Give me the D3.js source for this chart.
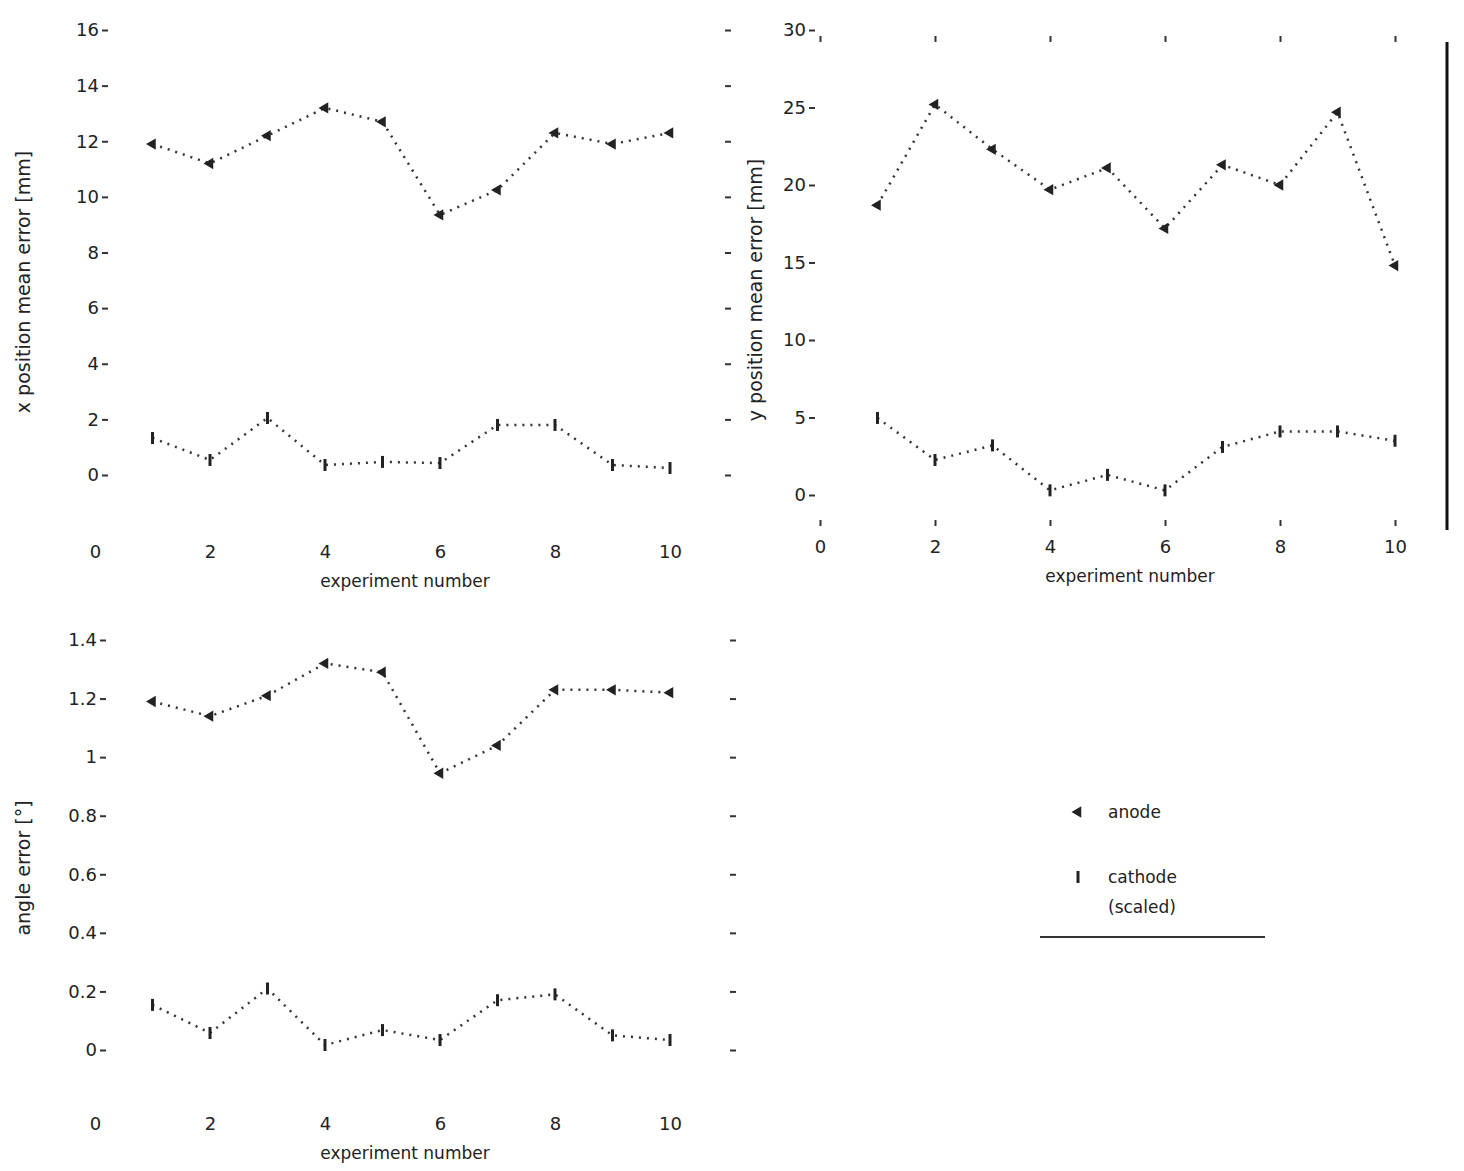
<!DOCTYPE html>
<html>
<head>
<meta charset="utf-8">
<script src="https://cdn.jsdelivr.net/npm/d3@7"></script>
<style>
  body { margin: 0; background: #fff; }
  text { font-family: "DejaVu Sans", sans-serif; fill: #222; }
</style>
</head>
<body>
<svg id="chart" width="1464" height="1171"></svg>
<script>
// values
var experiments = [1, 2, 3, 4, 5, 6, 7, 8, 9, 10];
var xTicks = [0, 2, 4, 6, 8, 10];

var xAnode   = [11.9, 11.2, 12.2, 13.2, 12.7, 9.35, 10.25, 12.3, 11.9, 12.3];
var xCathode = [1.33, 0.54, 2.05, 0.36, 0.47, 0.43, 1.8, 1.8, 0.36, 0.25];
var xErrTicks = [0, 2, 4, 6, 8, 10, 12, 14, 16];

var yAnode   = [18.7, 25.2, 22.3, 19.7, 21.1, 17.2, 21.3, 20.0, 24.7, 14.8];
var yCathode = [4.97, 2.26, 3.2, 0.3, 1.3, 0.3, 3.1, 4.1, 4.1, 3.5];
var yErrTicks = [0, 5, 10, 15, 20, 25, 30];

var angAnode   = [1.19, 1.14, 1.21, 1.32, 1.29, 0.945, 1.04, 1.23, 1.23, 1.22];
var angCathode = [0.154, 0.058, 0.21, 0.017, 0.068, 0.034, 0.17, 0.19, 0.05, 0.034];
var angTicks = [0, 0.2, 0.4, 0.6, 0.8, 1, 1.2, 1.4];

var seriesNames = ["anode", "cathode"];
var legendLines = [["anode"], ["cathode", "(scaled)"]];

var svg = d3.select('#chart');
var fmt = d3.format('.1~f');

var markers = {
  anode: function(g){
    g.append('path').attr('d', d3.symbol(d3.symbolTriangle, 55)())
      .attr('transform', 'rotate(-90)').style('fill', '#222');
  },
  cathode: function(g){
    g.append('line').attr('x1', 0).attr('x2', 0).attr('y1', -6).attr('y2', 6)
      .style('stroke', '#222').style('stroke-width', 3);
  }
};

function drawPanel(cfg){
  var g = svg.append('g'),
      x = d3.scaleLinear().domain([0, 10]).range(cfg.xr),
      y = d3.scaleLinear().domain(cfg.yd).range(cfg.yr);

  g.append('g').attr('transform', 'translate(' + cfg.left + ',0)')
    .call(d3.axisLeft(y).tickValues(cfg.yTicks).tickFormat(fmt).tickSize(6).tickPadding(3));
  if (cfg.right) {
    g.append('g').attr('transform', 'translate(' + cfg.right + ',0)')
      .call(d3.axisRight(y).tickValues(cfg.yTicks).tickFormat('').tickSize(6));
  }
  g.append('g').attr('transform', 'translate(0,' + cfg.bottom + ')')
    .call(d3.axisBottom(x).tickValues(xTicks).tickFormat(fmt).tickSize(cfg.bottomTicks ? 6 : 0)
      .tickPadding(cfg.bottomTicks ? 14 : 20));
  if (cfg.top) {
    g.append('g').attr('transform', 'translate(0,' + cfg.top + ')')
      .call(d3.axisBottom(x).tickValues(xTicks).tickFormat('').tickSize(6));
  }
  g.selectAll('.domain').remove();
  g.selectAll('.tick line').style('stroke', '#333').style('stroke-width', 2);
  g.selectAll('.tick text').style('font-size', '18px');

  g.append('text').attr('x', cfg.labelCx).attr('y', cfg.bottom + 62)
    .attr('text-anchor', 'middle').style('font-size', '17px').text('experiment number');
  g.append('text')
    .attr('transform', 'translate(' + cfg.labelX + ',' + cfg.labelY + ')rotate(-90)')
    .attr('text-anchor', 'middle').style('font-size', '19px').text(cfg.yLabel);

  var line = d3.line().x(function(d){ return x(d[0]); }).y(function(d){ return y(d[1]); });

  seriesNames.forEach(function(name, i){
    var pts = experiments.map(function(e, j){ return [e, cfg.values[i][j]]; });
    g.append('path').datum(pts).attr('d', line)
      .style('fill', 'none').style('stroke', '#333').style('stroke-width', 2.5)
      .style('stroke-dasharray', '2,6');
    g.selectAll('.m-' + name).data(pts).enter().append('g').attr('class', 'm-' + name)
      .attr('transform', function(d){ return 'translate(' + x(d[0]) + ',' + y(d[1]) + ')'; })
      .each(function(){ markers[name](d3.select(this)); });
  });
}

drawPanel({
  values: [xAnode, xCathode], yd: [0, 16], yTicks: xErrTicks,
  xr: [95, 670], yr: [475, 30], left: 108, right: 725, bottom: 525,
  bottomTicks: false, top: null, labelX: 30, labelY: 282, labelCx: 405,
  yLabel: 'x position mean error [mm]'
});
drawPanel({
  values: [yAnode, yCathode], yd: [0, 30], yTicks: yErrTicks,
  xr: [820, 1395], yr: [495, 30], left: 815, right: null, bottom: 520,
  bottomTicks: true, top: 36, labelX: 762, labelY: 290, labelCx: 1130,
  yLabel: 'y position mean error [mm]'
});
drawPanel({
  values: [angAnode, angCathode], yd: [0, 1.4], yTicks: angTicks,
  xr: [95, 670], yr: [1050, 640], left: 106, right: 730, bottom: 1097,
  bottomTicks: false, top: null, labelX: 30, labelY: 868, labelCx: 405,
  yLabel: 'angle error [°]'
});

// separator line at right of the upper-right panel
svg.append('line').attr('x1', 1447).attr('x2', 1447).attr('y1', 42).attr('y2', 530)
  .style('stroke', '#111').style('stroke-width', 3);

// legend
var leg = svg.append('g').attr('transform', 'translate(1078,812)');
legendLines.forEach(function(lines, i){
  var row = leg.append('g').attr('transform', 'translate(0,' + (i * 65) + ')');
  markers[seriesNames[i]](row.append('g'));
  lines.forEach(function(t, k){
    row.append('text').attr('x', 30).attr('y', k * 30).attr('dy', '0.35em')
      .style('font-size', '17px').text(t);
  });
});
svg.append('line').attr('x1', 1040).attr('x2', 1265).attr('y1', 937).attr('y2', 937)
  .style('stroke', '#333').style('stroke-width', 2);
</script>
</body>
</html>
